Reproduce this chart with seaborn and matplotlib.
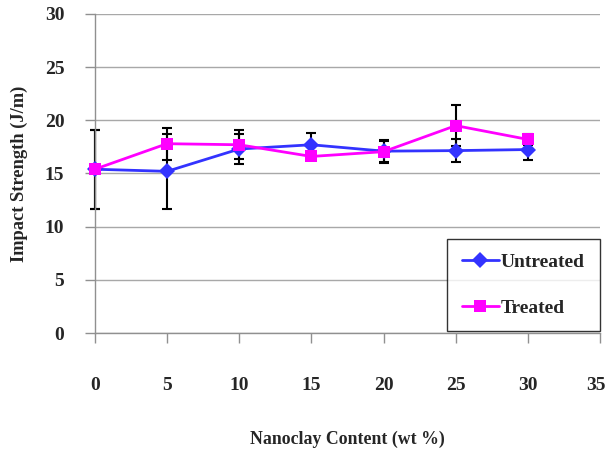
import numpy as np
import pandas as pd
import matplotlib
matplotlib.use("Agg")
import matplotlib.pyplot as plt
import matplotlib.transforms as mtransforms
import seaborn as sns

# Data
nanoclay = [0, 5, 10, 15, 20, 25, 30]
untreated = [15.4, 15.2, 17.3, 17.7, 17.1, 17.15, 17.25]
untreated_err = [3.7, 3.5, 1.4, 1.1, 1.0, 1.1, 1.0]
treated = [15.4, 17.8, 17.7, 16.6, 17.05, 19.5, 18.2]
treated_err = [3.7, 1.5, 1.35, 0.0, 1.1, 1.9, 0.5]

df = pd.DataFrame({
    "Nanoclay": nanoclay * 2,
    "Impact": untreated + treated,
    "Series": ["Untreated"] * len(nanoclay) + ["Treated"] * len(nanoclay),
})

sns.set_style("white")
plt.rcParams["font.family"] = ["Liberation Serif", "DejaVu Serif"]
plt.rcParams["font.weight"] = "bold"

fig = plt.figure(figsize=(6.08, 4.5), dpi=100)
ax = fig.add_axes([0.156, 0.26, 0.831, 0.709])

# Error bars (black with caps)
for vals, errs in [(untreated, untreated_err), (treated, treated_err)]:
    eb = ax.errorbar(nanoclay, vals, yerr=errs, fmt="none", ecolor="black",
                     elinewidth=1.5, capsize=3.5, capthick=1.5, zorder=2)
    for art in eb.lines[1] + eb.lines[2]:
        art.set_clip_on(False)

palette = {"Untreated": "#3333FF", "Treated": "#FF00FF"}
sns.lineplot(data=df, x="Nanoclay", y="Impact", hue="Series", style="Series",
             markers={"Untreated": "D", "Treated": "s"}, dashes=False,
             palette=palette, linewidth=2, markersize=8, markeredgewidth=0,
             ax=ax, zorder=3, clip_on=False)

ax.set_xlim(0, 35)
ax.set_ylim(0, 30)
ax.set_xticks(range(0, 36, 5))
ax.set_yticks(range(0, 31, 5))
ax.yaxis.grid(True, color="#A8A8A8", linewidth=1)
ax.xaxis.grid(False)

for s in ["top", "right"]:
    ax.spines[s].set_visible(False)
for s in ["left", "bottom"]:
    ax.spines[s].set_color("#909090")
    ax.spines[s].set_linewidth(1)

ax.tick_params(axis="x", direction="out", length=7, color="#909090", width=1,
               pad=25, labelsize=14, bottom=True)
ax.tick_params(axis="y", direction="out", length=7, color="#909090", width=1,
               pad=15, labelsize=14, left=True)
for lab in ax.get_xticklabels() + ax.get_yticklabels():
    lab.set_fontweight("bold")

# keep the last x label inside the figure edge
last = ax.get_xticklabels()[-1]
last.set_transform(last.get_transform()
                   + mtransforms.ScaledTranslation(-3 / 72, 0, fig.dpi_scale_trans))

ax.set_xlabel("Nanoclay Content (wt %)", fontsize=12.8, fontweight="bold", labelpad=26)
ax.set_ylabel("Impact Strength (J/m)", fontsize=13.3, fontweight="bold", labelpad=12)

leg = ax.legend(loc="lower left", bbox_to_anchor=(0.697, 0.006, 0.303, 0.292),
                mode="expand", borderaxespad=0, frameon=True, fancybox=False,
                edgecolor="black", labelspacing=1.45, borderpad=0.75,
                handlelength=1.9, handletextpad=0.1,
                prop={"weight": "bold", "size": 14})
leg.get_frame().set_linewidth(1)

fig.savefig("out.png", dpi=100)
